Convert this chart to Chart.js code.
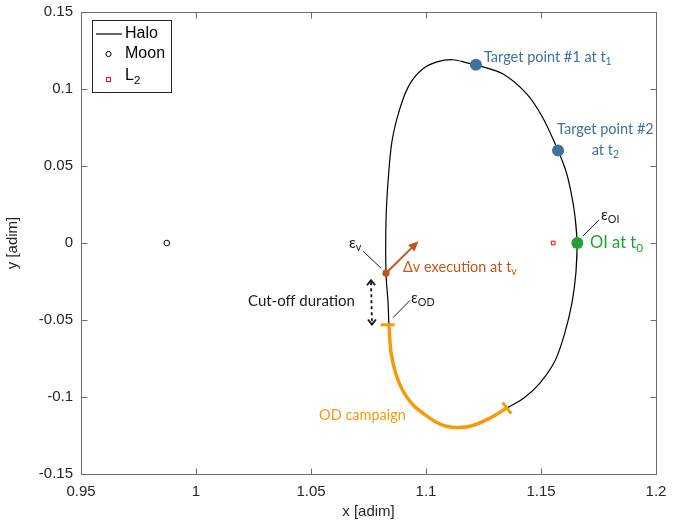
<!DOCTYPE html>
<html>
<head>
<meta charset="utf-8">
<script src="https://cdn.jsdelivr.net/npm/chart.js@4.4.0/dist/chart.umd.min.js"></script>
<style>
html, body { margin: 0; padding: 0; background: #fff; }
</style>
</head>
<body>
<canvas id="myChart" width="681" height="526"></canvas>
<script>
// halo orbit (loop closes on itself, a little overlap at the seam)
const haloX = [1.1652, 1.1657, 1.1648, 1.1630, 1.1609, 1.1574, 1.1509, 1.1439, 1.1335, 1.1217,
               1.1178, 1.1117, 1.1048, 1.0987, 1.0930, 1.0887, 1.0852, 1.0835, 1.0826, 1.0826,
               1.0835, 1.0839, 1.0848, 1.0870, 1.0900, 1.0944, 1.1004, 1.1061, 1.1113, 1.1191,
               1.1278, 1.1352, 1.1426, 1.1496, 1.1561, 1.1604, 1.1635, 1.1652, 1.1657, 1.1648];
const haloY = [-0.0190, 0.0000, 0.0170, 0.0333, 0.0464, 0.0601, 0.0810, 0.0967, 0.1098, 0.1157,
               0.1170, 0.1190, 0.1176, 0.1131, 0.1033, 0.0876, 0.0660, 0.0399, 0.0137, -0.0196,
               -0.0386, -0.0536, -0.0712, -0.0856, -0.0961, -0.1052, -0.1124, -0.1176, -0.1196, -0.1190,
               -0.1137, -0.1072, -0.1007, -0.0908, -0.0765, -0.0582, -0.0386, -0.0190, 0.0000, 0.0170];

// OD campaign arc
const odX = [1.0839, 1.0848, 1.0870, 1.0900, 1.0944, 1.1004, 1.1061, 1.1113, 1.1191, 1.1278, 1.1352];
const odY = [-0.0536, -0.0712, -0.0856, -0.0961, -0.1052, -0.1124, -0.1176, -0.1196, -0.1190, -0.1137, -0.1072];

const moonX = [0.9873];   const moonY = [0];
const l2X = [1.1553];     const l2Y = [0];
const targetX = [1.1217, 1.1574]; const targetY = [0.1157, 0.0601];
const oiX = [1.1658];     const oiY = [0];
const dvX = [1.0826];     const dvY = [-0.0196];
const odTickX = [1.0833, 1.1352]; const odTickY = [-0.0531, -0.1072];

const xTicks = [0.95, 1, 1.05, 1.1, 1.15, 1.2];
const yTicks = [-0.15, -0.1, -0.05, 0, 0.05, 0.1, 0.15];

const BLUE = '#41709f';
const GREEN = '#23a036';
const BROWN = '#c0561a';
const ORANGE = '#f59a0c';
const NOTE_FONT = 'Lato, "Open Sans", sans-serif';
const AXIS_FONT = '"Liberation Sans", Arial, sans-serif';

function pts(xs, ys){
    let out = [];
    for(let i = 0; i < xs.length; i++){
        out.push({x: xs[i], y: ys[i]});
    }
    return out;
}

// text notes, placed in data units
const notes = [
    {x: 1.1252, y: 0.1203, color: BLUE, size: 14.5, align: 'left', parts: [['Target point #1 at t', 0], ['1', 1]]},
    {x: 1.1780, y: 0.0739, color: BLUE, size: 14.5, align: 'center', parts: [['Target point #2', 0]]},
    {x: 1.1780, y: 0.0601, color: BLUE, size: 14.5, align: 'center', parts: [['at t', 0], ['2', 1]]},
    {x: 1.1713, y: 0.0000, color: GREEN, size: 16.5, align: 'left', parts: [['OI at t', 0], ['0', 1]]},
    {x: 1.0900, y: -0.0157, color: BROWN, size: 14.5, align: 'left', parts: [['\u0394v execution at t', 0], ['v', 1]]},
    {x: 1.0226, y: -0.0379, color: '#1a1a1a', size: 15, align: 'left', parts: [['Cut-off duration', 0]]},
    {x: 1.0535, y: -0.1118, color: ORANGE, size: 14.5, align: 'left', parts: [['OD campaign', 0]]},
    {x: 1.0665, y: 0.0000, color: '#1a1a1a', size: 15, align: 'left', parts: [['\u03b5', 0], ['v', 1]]},
    {x: 1.0935, y: -0.0359, color: '#1a1a1a', size: 15, align: 'left', parts: [['\u03b5', 0], ['OD', 1]]},
    {x: 1.1761, y: 0.0183, color: '#1a1a1a', size: 15, align: 'left', parts: [['\u03b5', 0], ['OI', 1]]}
];

const leaders = [
    [1.0726, -0.0052, 1.0804, -0.0163],
    [1.0930, -0.0373, 1.0857, -0.0484],
    [1.1752, 0.0150, 1.1683, 0.0046]
];
const dvArrowTip = [1.0967, 0.0012];
const cutoffArrow = [1.0761, -0.0242, 1.0765, -0.0529];

function drawRich(ctx, x, y, parts, size, color, align, family){
    let widths = [];
    for(let i = 0; i < parts.length; i++){
        ctx.font = (parts[i][1] ? size * 0.72 : size) + 'px ' + family;
        widths.push(ctx.measureText(parts[i][0]).width);
    }
    let total = widths.reduce((a, b) => a + b, 0);
    let cx = align == 'center' ? x - total / 2 : x;
    ctx.fillStyle = color;
    ctx.textAlign = 'left';
    ctx.textBaseline = 'middle';
    for(let i = 0; i < parts.length; i++){
        ctx.font = (parts[i][1] ? size * 0.72 : size) + 'px ' + family;
        ctx.fillText(parts[i][0], cx, parts[i][1] ? y + size * 0.3 : y);
        cx += widths[i];
    }
}

const decor = {
    id: 'decor',
    afterDatasetsDraw(chart){
        const ctx = chart.ctx;
        const sx = chart.scales.x, sy = chart.scales.y;
        ctx.save();

        // leader lines
        ctx.strokeStyle = '#1a1a1a';
        ctx.lineWidth = 1;
        leaders.forEach(l => {
            ctx.beginPath();
            ctx.moveTo(sx.getPixelForValue(l[0]), sy.getPixelForValue(l[1]));
            ctx.lineTo(sx.getPixelForValue(l[2]), sy.getPixelForValue(l[3]));
            ctx.stroke();
        });

        // delta-v arrow
        let ax = sx.getPixelForValue(dvX[0]), ay = sy.getPixelForValue(dvY[0]);
        let bx = sx.getPixelForValue(dvArrowTip[0]), by = sy.getPixelForValue(dvArrowTip[1]);
        let ang = Math.atan2(by - ay, bx - ax);
        ctx.strokeStyle = BROWN;
        ctx.fillStyle = BROWN;
        ctx.lineWidth = 2;
        ctx.beginPath();
        ctx.moveTo(ax, ay);
        ctx.lineTo(bx - 6 * Math.cos(ang), by - 6 * Math.sin(ang));
        ctx.stroke();
        ctx.beginPath();
        ctx.moveTo(bx, by);
        ctx.lineTo(bx - 10 * Math.cos(ang) + 4.5 * Math.sin(ang), by - 10 * Math.sin(ang) - 4.5 * Math.cos(ang));
        ctx.lineTo(bx - 10 * Math.cos(ang) - 4.5 * Math.sin(ang), by - 10 * Math.sin(ang) + 4.5 * Math.cos(ang));
        ctx.closePath();
        ctx.fill();

        // cut-off dotted double arrow
        let c1x = sx.getPixelForValue(cutoffArrow[0]), c1y = sy.getPixelForValue(cutoffArrow[1]);
        let c2x = sx.getPixelForValue(cutoffArrow[2]), c2y = sy.getPixelForValue(cutoffArrow[3]);
        ctx.strokeStyle = '#111';
        ctx.lineWidth = 1.8;
        ctx.setLineDash([3, 3]);
        ctx.beginPath();
        ctx.moveTo(c1x, c1y + 2);
        ctx.lineTo(c2x, c2y - 2);
        ctx.stroke();
        ctx.setLineDash([]);
        ctx.beginPath();
        ctx.moveTo(c1x - 4, c1y + 5); ctx.lineTo(c1x, c1y); ctx.lineTo(c1x + 4, c1y + 5);
        ctx.moveTo(c2x - 4, c2y - 5); ctx.lineTo(c2x, c2y); ctx.lineTo(c2x + 4, c2y - 5);
        ctx.stroke();

        notes.forEach(n => {
            drawRich(ctx, sx.getPixelForValue(n.x), sy.getPixelForValue(n.y), n.parts, n.size, n.color, n.align, NOTE_FONT);
        });
        ctx.restore();
    },
    afterDraw(chart){
        const ctx = chart.ctx;
        const a = chart.chartArea;
        const sx = chart.scales.x, sy = chart.scales.y;
        ctx.save();
        ctx.strokeStyle = '#6e6e6e';
        ctx.lineWidth = 1;
        let l = Math.round(a.left) + 0.5, r = Math.round(a.right) + 0.5;
        let t = Math.round(a.top) + 0.5, b = Math.round(a.bottom) + 0.5;
        ctx.strokeRect(l, t, r - l, b - t);
        ctx.beginPath();
        xTicks.forEach(v => {
            let p = Math.round(sx.getPixelForValue(v)) + 0.5;
            ctx.moveTo(p, b); ctx.lineTo(p, b - 6);
            ctx.moveTo(p, t); ctx.lineTo(p, t + 6);
        });
        yTicks.forEach(v => {
            let p = Math.round(sy.getPixelForValue(v)) + 0.5;
            ctx.moveTo(l, p); ctx.lineTo(l + 6, p);
            ctx.moveTo(r, p); ctx.lineTo(r - 6, p);
        });
        ctx.stroke();

        // legend box
        ctx.fillStyle = '#fff';
        ctx.fillRect(92, 20, 79, 72);
        ctx.strokeStyle = '#262626';
        ctx.strokeRect(92.5, 20.5, 79, 72);
        ctx.strokeStyle = '#000';
        ctx.lineWidth = 1.2;
        ctx.beginPath();
        ctx.moveTo(96, 34); ctx.lineTo(122, 34);
        ctx.stroke();
        ctx.lineWidth = 1;
        ctx.beginPath();
        ctx.arc(108.5, 54, 2.6, 0, Math.PI * 2);
        ctx.stroke();
        ctx.strokeStyle = '#ff0000';
        ctx.strokeRect(106.5, 77.5, 4, 4);
        drawRich(ctx, 125, 34, [['Halo', 0]], 16, '#000', 'left', AXIS_FONT);
        drawRich(ctx, 125, 54, [['Moon', 0]], 16, '#000', 'left', AXIS_FONT);
        drawRich(ctx, 125, 76, [['L', 0], ['2', 1]], 16, '#000', 'left', AXIS_FONT);
        ctx.restore();
    }
};

function fmt(v){
    return String(Number(v.toFixed(2)));
}

const config = {
    type: 'scatter',
    data: {
        datasets: [
            {label: 'Halo', data: pts(haloX, haloY), showLine: true, borderColor: '#000', borderWidth: 1.2,
             pointRadius: 0, tension: 0.3, order: 5},
            {label: 'OD', data: pts(odX, odY), showLine: true, borderColor: ORANGE, borderWidth: 3.5,
             pointRadius: 0, tension: 0.3, order: 4},
            {label: 'OD ticks', data: pts(odTickX, odTickY), pointStyle: 'line', rotation: [0, 52],
             pointRadius: 7, borderColor: ORANGE, borderWidth: 3, order: 3},
            {label: 'Moon', data: pts(moonX, moonY), pointStyle: 'circle', pointRadius: 2.8,
             borderColor: '#000', backgroundColor: '#fff', borderWidth: 1, order: 2},
            {label: 'L2', data: pts(l2X, l2Y), pointStyle: 'rect', pointRadius: 2.6,
             borderColor: '#ff0000', backgroundColor: '#fff', borderWidth: 1, order: 2},
            {label: 'Targets', data: pts(targetX, targetY), pointRadius: 6,
             borderColor: BLUE, backgroundColor: BLUE, borderWidth: 0, order: 1},
            {label: 'OI', data: pts(oiX, oiY), pointRadius: 6,
             borderColor: GREEN, backgroundColor: GREEN, borderWidth: 0, order: 1},
            {label: 'dv', data: pts(dvX, dvY), pointRadius: 3.6,
             borderColor: BROWN, backgroundColor: BROWN, borderWidth: 0, order: 1}
        ]
    },
    options: {
        responsive: false,
        animation: false,
        devicePixelRatio: 1,
        layout: {padding: {left: 0, right: 25, top: 12, bottom: 0}},
        plugins: {legend: {display: false}, tooltip: {enabled: false}},
        scales: {
            x: {
                type: 'linear', min: 0.95, max: 1.2,
                afterBuildTicks: s => { s.ticks = xTicks.map(v => ({value: v})); },
                afterFit: s => { s.height = 52; s.paddingLeft = 0; s.paddingRight = 0; },
                grid: {display: false, drawTicks: false},
                border: {display: false},
                ticks: {callback: v => fmt(v), color: '#262626', padding: 9, maxRotation: 0,
                        font: {family: AXIS_FONT, size: 15}},
                title: {display: true, text: 'x [adim]', color: '#262626', padding: {top: 0, bottom: 5},
                        font: {family: AXIS_FONT, size: 15}}
            },
            y: {
                type: 'linear', min: -0.15, max: 0.15,
                afterBuildTicks: s => { s.ticks = yTicks.map(v => ({value: v})); },
                afterFit: s => { s.width = 81; s.paddingTop = 0; s.paddingBottom = 0; },
                grid: {display: false, drawTicks: false},
                border: {display: false},
                ticks: {callback: v => fmt(v), color: '#262626', padding: 8,
                        font: {family: AXIS_FONT, size: 15}},
                title: {display: true, text: 'y [adim]', color: '#262626', padding: {top: 4, bottom: 0},
                        font: {family: AXIS_FONT, size: 15}}
            }
        }
    },
    plugins: [decor]
};

var myChart = new Chart(document.getElementById('myChart'), config);
</script>
</body>
</html>
